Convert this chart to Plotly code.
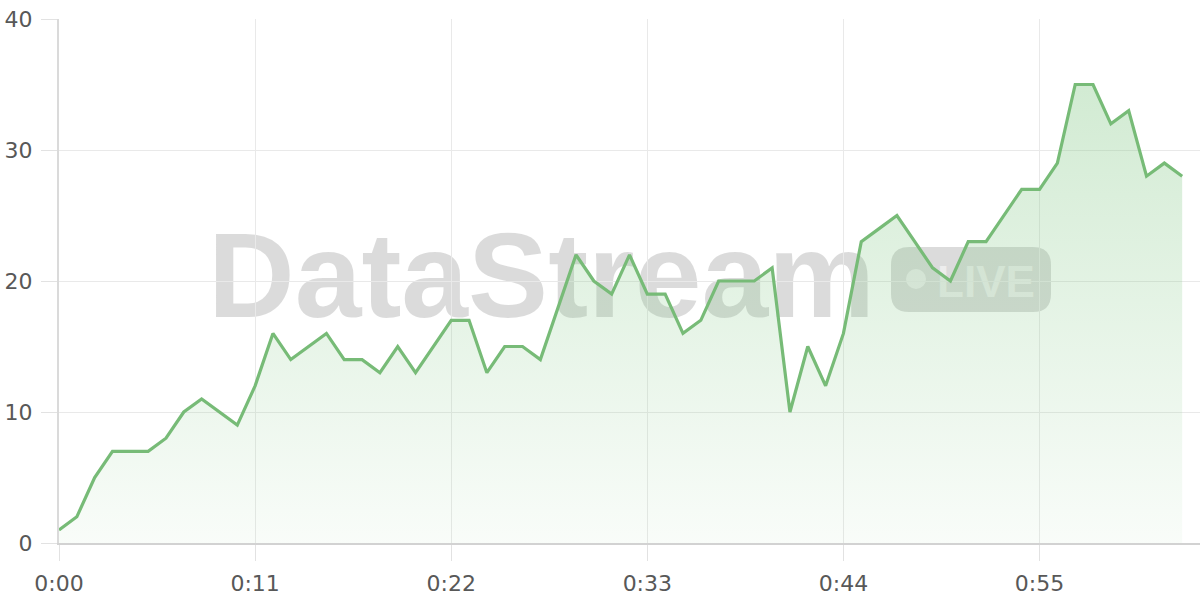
import plotly.graph_objects as go

# ---- data ----
seconds = list(range(64))
values = [1, 2, 5, 7, 7, 7, 8, 10, 11, 10,
          9, 12, 16, 14, 15, 16, 14, 14, 13, 15,
          13, 15, 17, 17, 13, 15, 15, 14, 18, 22,
          20, 19, 22, 19, 19, 16, 17, 20, 20, 20,
          21, 10, 15, 12, 16, 23, 24, 25, 23, 21,
          20, 23, 23, 25, 27, 27, 29, 35, 35, 32,
          33, 28, 29, 28]
tick_seconds = [0, 11, 22, 33, 44, 55]
tick_labels = ["0:00", "0:11", "0:22", "0:33", "0:44", "0:55"]
y_ticks = [0, 10, 20, 30, 40]

# ---- layout geometry ----
W, H = 1200, 600
L, R, T, B = 59, 0, 19, 57
pw, ph = W - L - R, H - T - B


def px(x):
    return (x - L) / pw


def py(y):
    return (H - B - y) / ph


LINE = "#77bb77"
GRID = "#e9e9e9"
FONT = "DejaVu Sans"
LABEL = "#585858"

fig = go.Figure()
fig.add_trace(go.Scatter(
    x=seconds, y=values, mode="lines",
    line=dict(color=LINE, width=3.2),
    fill="tozeroy",
    fillgradient=dict(
        type="vertical",
        start=0, stop=35,
        colorscale=[[0, "rgba(129,199,132,0.05)"], [1, "rgba(129,199,132,0.36)"]],
    ),
    hoverinfo="skip", showlegend=False,
))

# ---- watermark ----
wm = "rgba(0,0,0,0.14)"
bx0, bx1, by_top, by_bot = 891, 1051, 247, 312
r = 18
rx, ry = r / pw, r / ph
X0, X1, Y1, Y0 = px(bx0), px(bx1), py(by_top), py(by_bot)
path = (f"M {X0+rx},{Y1} L {X1-rx},{Y1} Q {X1},{Y1} {X1},{Y1-ry} "
        f"L {X1},{Y0+ry} Q {X1},{Y0} {X1-rx},{Y0} L {X0+rx},{Y0} "
        f"Q {X0},{Y0} {X0},{Y0+ry} L {X0},{Y1-ry} Q {X0},{Y1} {X0+rx},{Y1} Z")
shapes = [
    dict(type="path", path=path, xref="paper", yref="paper",
         fillcolor=wm, line=dict(width=0), layer="between"),
    dict(type="circle", xref="paper", yref="paper",
         x0=px(906), x1=px(926), y0=py(289), y1=py(269),
         fillcolor="rgba(255,255,255,0.5)", line=dict(width=0), layer="between"),
    dict(type="rect", xref="paper", yref="paper",
         x0=px(200), x1=px(883), y0=py(322), y1=py(206),
         fillcolor="rgba(0,0,0,0)", line=dict(width=0), layer="between",
         label=dict(text="DataStream", textposition="middle center",
                    font=dict(family="Liberation Sans", size=120, color=wm, weight="bold"))),
    dict(type="rect", xref="paper", yref="paper",
         x0=px(934), x1=px(1038), y0=py(298), y1=py(256),
         fillcolor="rgba(0,0,0,0)", line=dict(width=0), layer="between",
         label=dict(text="LIVE", textposition="middle center",
                    font=dict(family="Liberation Sans", size=44, color="rgba(255,255,255,0.5)",
                              weight="bold"))),
]

fig.update_layout(
    width=W, height=H,
    margin=dict(l=L, r=R, t=T, b=B, pad=0, autoexpand=False),
    paper_bgcolor="white", plot_bgcolor="white",
    font=dict(family=FONT, size=22, color=LABEL),
    shapes=shapes,
    showlegend=False,
    xaxis=dict(
        range=[0, 64], tickvals=tick_seconds, ticktext=tick_labels,
        showgrid=True, gridcolor=GRID, gridwidth=1,
        ticks="outside", ticklen=16, tickcolor="#e2e2e2", tickwidth=1,
        showline=True, linecolor="#d2d2d2", linewidth=2,
        zeroline=False, tickfont=dict(size=22, color=LABEL),
        ticklabelstandoff=4,
        automargin=False, fixedrange=True,
    ),
    yaxis=dict(
        range=[0, 40], tickvals=y_ticks,
        showgrid=True, gridcolor=GRID, gridwidth=1,
        ticks="outside", ticklen=16, tickcolor="#e2e2e2", tickwidth=1,
        showline=True, linecolor="#dadada", linewidth=2,
        zeroline=False, tickfont=dict(size=22, color=LABEL),
        ticklabelstandoff=4,
        automargin=False, fixedrange=True,
    ),
)

fig.write_html("out.html", config={"displayModeBar": False},
               post_script="document.body.style.margin='0';")
